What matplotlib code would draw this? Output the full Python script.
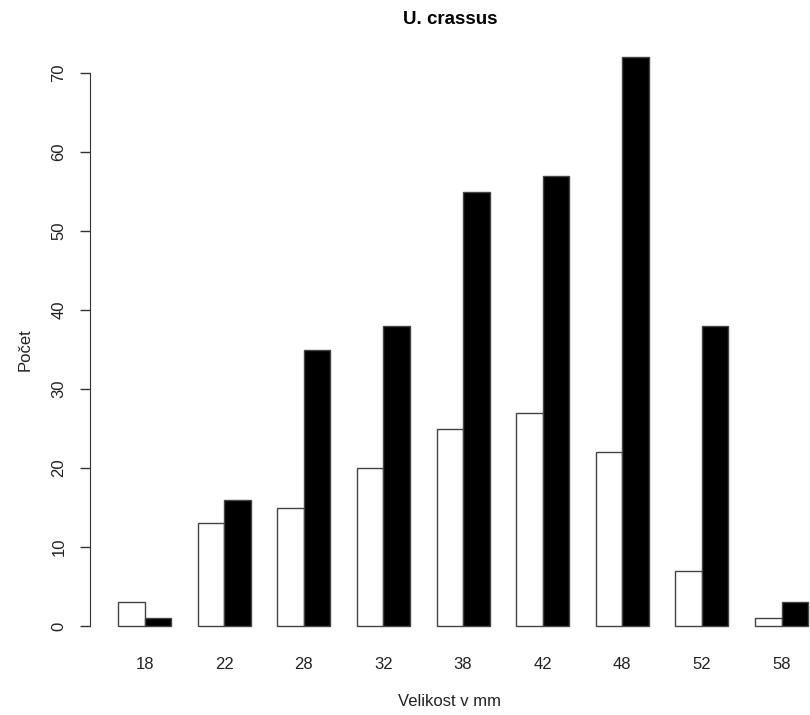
import numpy as np
import matplotlib.pyplot as plt

plt.rcParams['font.family'] = ['Liberation Sans', 'DejaVu Sans']

# velikostní třídy a četnosti
kategorie = ['18', '22', '28', '32', '38', '42', '48', '52', '58']
bile = [3, 13, 15, 20, 25, 27, 22, 7, 1]
cerne = [1, 16, 35, 38, 55, 57, 72, 38, 3]
y_ticks = [0, 10, 20, 30, 40, 50, 60, 70]

W, H = 810, 715
fig = plt.figure(figsize=(W / 100, H / 100), dpi=100)

# osy v pixelech: 0 jednotek na x=91.5 px, 26.54 px/jednotku; y: 0 na 626 px, 7.9 px/jednotku
ux0, upx = 91.5, 26.54
left_px, right_px = 90, 810
bottom_px, top_px = 649, 34
ax = fig.add_axes([left_px / W, 1 - bottom_px / H,
                   (right_px - left_px) / W, (bottom_px - top_px) / H])
ax.set_xlim((left_px - ux0) / upx, (right_px - ux0) / upx)
ax.set_ylim((626 - bottom_px) / 7.9, (626 - top_px) / 7.9)

# R barplot beside=TRUE: mezera 1, dva sloupce šířky 1
x = np.arange(len(kategorie)) * 3 + 1
ax.bar(x, bile, width=1, align='edge', color='white', edgecolor='#444444', linewidth=1)
ax.bar(x + 1, cerne, width=1, align='edge', color='black', edgecolor='#444444', linewidth=1)

for s in ['top', 'right', 'bottom']:
    ax.spines[s].set_visible(False)
ax.spines['left'].set_bounds(0, 70)
ax.spines['left'].set_color('#333333')

ax.set_yticks(y_ticks)
ax.set_yticklabels([str(v) for v in y_ticks], rotation=90, va='center', fontsize=12, color='#222222')
ax.tick_params(axis='y', length=7, width=1, pad=10, color='#333333')

ax.set_xticks(x + 1)
ax.set_xticklabels(kategorie, fontsize=12, color='#222222')
ax.tick_params(axis='x', length=0, pad=6)

fig.text(450 / W, 1 - 20 / H, 'U. crassus', ha='center', va='center',
         fontsize=13.5, fontweight='bold')
fig.text(25 / W, 1 - 350 / H, 'Počet', ha='center', va='center',
         rotation=90, fontsize=12, color='#222222')
fig.text(450 / W, 1 - 702 / H, 'Velikost v mm', ha='center', va='center',
         fontsize=12, color='#222222')

fig.savefig('out.png', dpi=100)
